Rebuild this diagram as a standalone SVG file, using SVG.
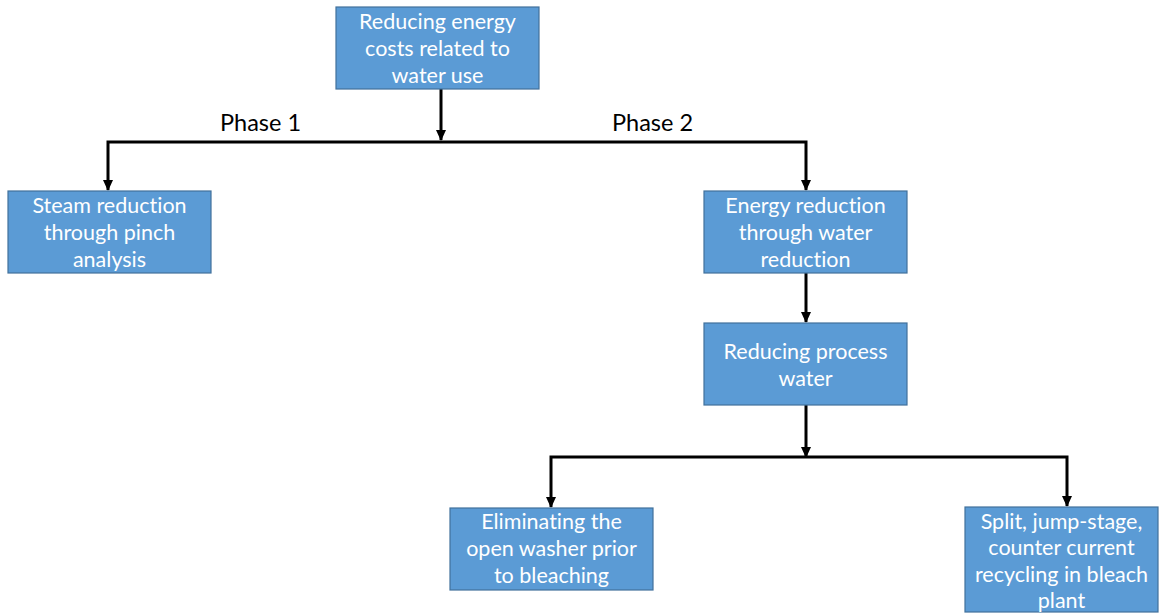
<svg xmlns="http://www.w3.org/2000/svg" width="1161" height="614" viewBox="0 0 1161 614">
  <defs>
    <marker id="arrow" markerWidth="12" markerHeight="12" refX="10" refY="6" orient="auto" markerUnits="userSpaceOnUse">
      <path d="M0,1 L11,6 L0,11 Z" fill="#000"/>
    </marker>
    <style>
      .box { fill: #5B9BD5; stroke: #41719C; stroke-width: 1.2; }
      .lbl { font-family: Lato, "Open Sans", sans-serif; font-size: 21.5px; fill: #ffffff; text-anchor: middle; font-variant-ligatures: none; }
      .phase { font-family: Lato, "Open Sans", sans-serif; font-size: 23.5px; fill: #000000; }
      .wire { fill: none; stroke: #000; stroke-width: 3; }
    </style>
  </defs>
  <rect width="1161" height="614" fill="#ffffff"/>

  <g id="connectors">
    <line class="wire" x1="441" y1="89" x2="441" y2="140" marker-end="url(#arrow)"/>
    <polyline class="wire" points="441,142 108,142 108,190" marker-end="url(#arrow)"/>
    <polyline class="wire" points="441,142 806,142 806,190" marker-end="url(#arrow)"/>
    <line class="wire" x1="806" y1="273" x2="806" y2="322" marker-end="url(#arrow)"/>
    <line class="wire" x1="806" y1="405" x2="806" y2="457" marker-end="url(#arrow)"/>
    <polyline class="wire" points="806,457 551,457 551,507" marker-end="url(#arrow)"/>
    <polyline class="wire" points="806,457 1067,457 1067,506" marker-end="url(#arrow)"/>
    <text class="phase" x="220" y="131">Phase 1</text>
    <text class="phase" x="612" y="131">Phase 2</text>
  </g>

  <g id="node-root">
    <rect class="box" x="336" y="7" width="203" height="82"/>
    <text class="lbl"><tspan x="437.5" y="29">Reducing energy</tspan><tspan x="437.5" y="56">costs related to</tspan><tspan x="437.5" y="83">water use</tspan></text>
  </g>

  <g id="node-steam">
    <rect class="box" x="8" y="191" width="203" height="82"/>
    <text class="lbl"><tspan x="109.5" y="213">Steam reduction</tspan><tspan x="109.5" y="240">through pinch</tspan><tspan x="109.5" y="267">analysis</tspan></text>
  </g>

  <g id="node-energy">
    <rect class="box" x="704" y="191" width="203" height="82"/>
    <text class="lbl"><tspan x="805.5" y="213">Energy reduction</tspan><tspan x="805.5" y="240">through water</tspan><tspan x="805.5" y="267">reduction</tspan></text>
  </g>

  <g id="node-process">
    <rect class="box" x="704" y="323" width="203" height="82"/>
    <text class="lbl"><tspan x="805.5" y="359">Reducing process</tspan><tspan x="805.5" y="386">water</tspan></text>
  </g>

  <g id="node-washer">
    <rect class="box" x="450" y="508" width="203" height="82"/>
    <text class="lbl"><tspan x="551.5" y="529">Eliminating the</tspan><tspan x="551.5" y="556">open washer prior</tspan><tspan x="551.5" y="583">to bleaching</tspan></text>
  </g>

  <g id="node-split">
    <rect class="box" x="965" y="507" width="193" height="105"/>
    <text class="lbl"><tspan x="1061.5" y="529">Split, jump-stage,</tspan><tspan x="1061.5" y="555">counter current</tspan><tspan x="1061.5" y="582">recycling in bleach</tspan><tspan x="1061.5" y="608">plant</tspan></text>
  </g>
</svg>
